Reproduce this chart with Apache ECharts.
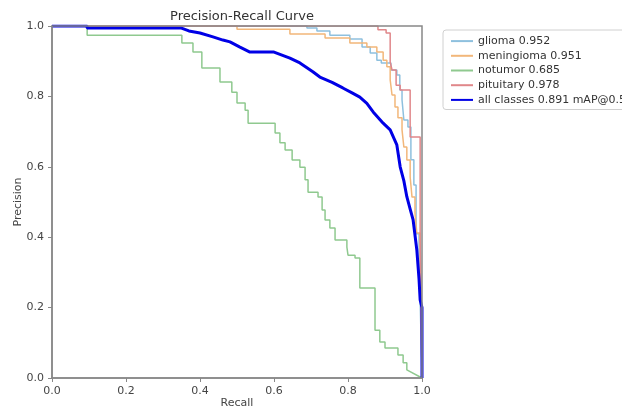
<!DOCTYPE html>
<html>
<head>
<meta charset="utf-8">
<script src="https://cdn.jsdelivr.net/npm/echarts@6/dist/echarts.min.js"></script>
<style>
	html, body { margin: 0; padding: 0; background: #fff; }
	#chart { width: 622px; height: 412px; }
</style>
</head>
<body>
<div id="chart"></div>
<script>
// Tick labels
const axisTicks = [0, 0.2, 0.4, 0.6, 0.8, 1.0];

// Each class: recall where precision drops, precision after the drop
const gliomaRecall = [0.689, 0.716, 0.751, 0.805, 0.838, 0.86, 0.878, 0.89, 0.916, 0.932, 0.94, 0.946, 0.951, 0.962, 0.97, 0.978, 0.984, 0.992, 0.995, 1.0];
const gliomaPrecision = [0.994, 0.986, 0.974, 0.963, 0.94, 0.923, 0.903, 0.895, 0.875, 0.861, 0.818, 0.79, 0.733, 0.713, 0.62, 0.548, 0.41, 0.27, 0.22, 0.0];

const meningiomaRecall = [0.5, 0.643, 0.738, 0.805, 0.851, 0.878, 0.895, 0.905, 0.914, 0.919, 0.927, 0.935, 0.946, 0.951, 0.959, 0.968, 0.973, 0.981, 0.986, 0.995, 1.0];
const meningiomaPrecision = [0.991, 0.977, 0.966, 0.952, 0.94, 0.926, 0.903, 0.884, 0.847, 0.804, 0.77, 0.739, 0.705, 0.656, 0.619, 0.571, 0.514, 0.469, 0.412, 0.392, 0.0];

const notumorRecall = [0.095, 0.351, 0.381, 0.405, 0.454, 0.486, 0.5, 0.522, 0.53, 0.603, 0.616, 0.63, 0.649, 0.67, 0.684, 0.692, 0.719, 0.73, 0.738, 0.751, 0.765, 0.797, 0.8, 0.819, 0.832, 0.873, 0.886, 0.9, 0.935, 0.949, 0.959, 1.0];
const notumorPrecision = [0.974, 0.952, 0.926, 0.881, 0.841, 0.812, 0.781, 0.761, 0.724, 0.696, 0.668, 0.648, 0.619, 0.599, 0.563, 0.528, 0.514, 0.477, 0.449, 0.426, 0.392, 0.372, 0.349, 0.341, 0.256, 0.136, 0.102, 0.085, 0.065, 0.043, 0.023, 0.0];

const pituitaryRecall = [0.881, 0.903, 0.914, 0.919, 0.93, 0.941, 0.968, 0.995, 1.0];
const pituitaryPrecision = [0.989, 0.98, 0.898, 0.875, 0.832, 0.818, 0.685, 0.39, 0.0];

// All classes curve (plain polyline)
const allRecall = [0, 0.095, 0.095, 0.35, 0.37, 0.4, 0.435, 0.462, 0.481, 0.508, 0.535, 0.6, 0.643, 0.67, 0.705, 0.724, 0.757, 0.786, 0.811, 0.832, 0.851, 0.868, 0.895, 0.914, 0.932, 0.941, 0.951, 0.959, 0.968, 0.976, 0.986, 0.992, 0.995, 1.0, 1.0];
const allPrecision = [1.0, 1.0, 0.994, 0.994, 0.986, 0.98, 0.969, 0.96, 0.955, 0.94, 0.926, 0.926, 0.909, 0.895, 0.87, 0.855, 0.84, 0.824, 0.81, 0.798, 0.78, 0.756, 0.724, 0.705, 0.662, 0.6, 0.56, 0.515, 0.48, 0.449, 0.364, 0.28, 0.222, 0.2, 0.0];

const classNames = ["glioma 0.952", "meningioma 0.951", "notumor 0.685", "pituitary 0.978", "all classes 0.891 mAP@0.5"];
const classColors = ["#8ec0de", "#f2b77a", "#8fc98f", "#e0878a", "#0000e6"];

// Build staircase points; optionally join the last point straight
function stairs(recall, precision, straightTail) {
	const pts = [[0, 1]];
	let prev = 1;
	recall.forEach((r, i) => {
		const last = i === recall.length - 1;
		if (!(last && straightTail)) {
			pts.push([r, prev]);
		}
		pts.push([r, precision[i]]);
		prev = precision[i];
	});
	return pts;
}

function lineSeries(name, color, data, width) {
	return {
		name: name,
		type: "line",
		data: data,
		symbol: "none",
		z: 2,
		lineStyle: { color: color, width: width },
		itemStyle: { color: color },
		animation: false,
	};
}

const chart = echarts.init(document.getElementById("chart"));
const font = "DejaVu Sans";

chart.setOption({
	backgroundColor: "#fff",
	title: {
		text: "Precision-Recall Curve",
		left: 237,
		top: 5,
		textAlign: "center",
		textStyle: { fontFamily: font, fontSize: 13, fontWeight: "normal", color: "#333" },
	},
	legend: {
		orient: "vertical",
		left: 443,
		top: 30,
		padding: [5.5, 8, 4, 7],
		itemWidth: 22,
		itemHeight: 14,
		itemGap: 3.5,
		borderColor: "#d0d0d0",
		borderWidth: 1,
		borderRadius: 3,
		itemStyle: { opacity: 0 },
		data: classNames,
		textStyle: { fontFamily: font, fontSize: 11, color: "#333" },
	},
	grid: {
		left: 52,
		right: 200,
		top: 26,
		bottom: 34,
		outerBoundsMode: "none",
		containLabel: false,
		show: true,
		z: 5,
		borderColor: "#888",
		borderWidth: 1.5,
	},
	xAxis: {
		type: "value",
		min: 0,
		max: 1,
		interval: 0.2,
		name: "Recall",
		nameLocation: "middle",
		nameGap: 20,
		nameMoveOverlap: false,
		nameTextStyle: { fontFamily: font, fontSize: 11, color: "#444" },
		axisLine: { lineStyle: { color: "#888", width: 1.5 } },
		axisTick: { show: true, length: 4, lineStyle: { color: "#888" } },
		splitLine: { show: false },
		axisLabel: {
			margin: 8,
			fontFamily: font,
			fontSize: 11,
			color: "#444",
			formatter: (v) => (axisTicks.includes(v) ? v.toFixed(1) : ""),
		},
	},
	yAxis: {
		type: "value",
		min: 0,
		max: 1,
		interval: 0.2,
		name: "Precision",
		nameLocation: "middle",
		nameGap: 28,
		nameMoveOverlap: false,
		nameTextStyle: { fontFamily: font, fontSize: 11, color: "#444" },
		axisLine: { show: true, lineStyle: { color: "#888", width: 1.5 } },
		axisTick: { show: true, length: 4, lineStyle: { color: "#888" } },
		splitLine: { show: false },
		axisLabel: {
			margin: 8,
			fontFamily: font,
			fontSize: 11,
			color: "#444",
			formatter: (v) => (axisTicks.includes(v) ? v.toFixed(1) : ""),
		},
	},
	series: [
		lineSeries(classNames[0], classColors[0], stairs(gliomaRecall, gliomaPrecision, true), 1.5),
		lineSeries(classNames[1], classColors[1], stairs(meningiomaRecall, meningiomaPrecision, false), 1.5),
		lineSeries(classNames[2], classColors[2], stairs(notumorRecall, notumorPrecision, true), 1.5),
		lineSeries(classNames[3], classColors[3], stairs(pituitaryRecall, pituitaryPrecision, false), 1.5),
		lineSeries(classNames[4], classColors[4], allRecall.map((r, i) => [r, allPrecision[i]]), 3),
	],
});
</script>
</body>
</html>
